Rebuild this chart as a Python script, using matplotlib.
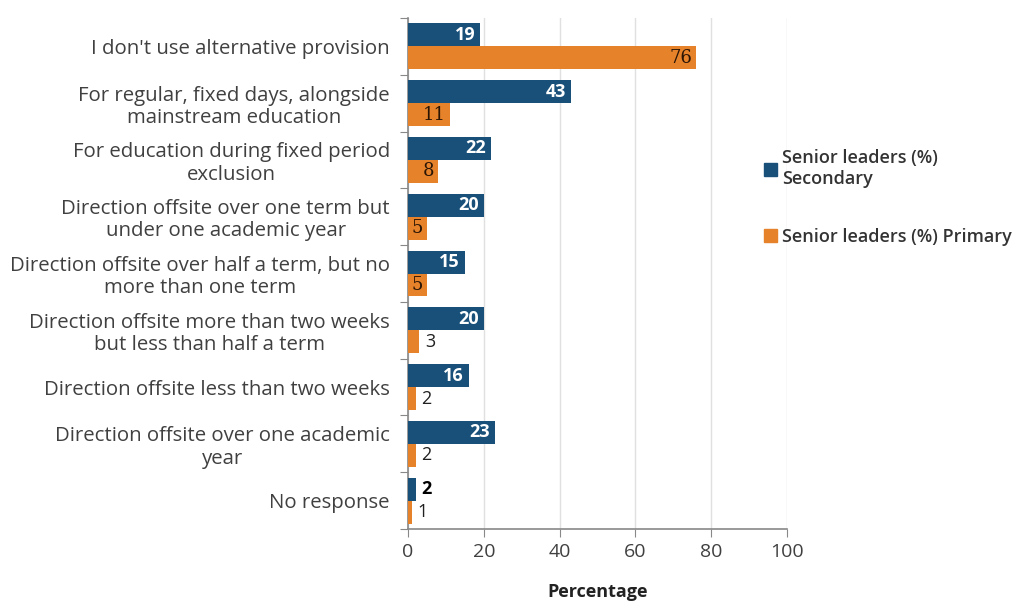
import matplotlib
matplotlib.use("Agg")
import matplotlib.pyplot as plt
import numpy as np
from matplotlib.patches import Patch

categories = [
    "I don't use alternative provision",
    "For regular, fixed days, alongside\nmainstream education",
    "For education during fixed period\nexclusion",
    "Direction offsite over one term but\nunder one academic year",
    "Direction offsite over half a term, but no\nmore than one term",
    "Direction offsite more than two weeks\nbut less than half a term",
    "Direction offsite less than two weeks",
    "Direction offsite over one academic\nyear",
    "No response",
]
secondary = [19, 43, 22, 20, 15, 20, 16, 23, 2]
primary = [76, 11, 8, 5, 5, 3, 2, 2, 1]
series_names = ["Senior leaders (%)\nSecondary", "Senior leaders (%) Primary"]
xticks = [0, 20, 40, 60, 80, 100]

c_sec = "#18507A"
c_pri = "#E5822A"
txt = "#404040"
fam = ["Open Sans", "DejaVu Sans"]

fig = plt.figure(figsize=(10.16, 6.01), dpi=100)
ax = fig.add_axes([408/1016, 1-529/601, (787-408)/1016, (529-18)/601])

n = len(categories)
y = np.arange(n)
h = 0.405
ax.barh(y - h/2, secondary, height=h, color=c_sec, zorder=3)
ax.barh(y + h/2, primary, height=h, color=c_pri, zorder=3)

for i in range(n):
    s = secondary[i]
    if s >= 5:
        ax.text(s - 1.3, y[i] - h/2, str(s), ha="right", va="center", color="white",
                fontweight="bold", fontsize=13, family=fam, zorder=4)
    else:
        ax.text(s + 1.5, y[i] - h/2, str(s), ha="left", va="center", color="black",
                fontweight="bold", fontsize=13, family=fam, zorder=4)
    p = primary[i]
    if p >= 4:
        ax.text(p - 1.0, y[i] + h/2, str(p), ha="right", va="center", color="#2a1505",
                fontsize=13, family=["DejaVu Serif"], zorder=4)
    else:
        ax.text(p + 1.5, y[i] + h/2, str(p), ha="left", va="center", color="#202020",
                fontsize=13, family=fam, zorder=4)

ax.set_xlim(0, 100)
ax.set_ylim(n - 0.5, -0.5)
ax.set_xticks(xticks)
ax.set_xticklabels([str(t) for t in xticks], fontsize=14, family=fam, color=txt)
ax.set_yticks(np.arange(n + 1) - 0.5, minor=False)
ax.set_yticklabels([])
ax.set_yticks(y, minor=True)
ax.set_yticklabels(categories, minor=True, fontsize=14.7, family=fam, color=txt,
                   linespacing=1.15)
ax.tick_params(axis="y", which="minor", length=0, pad=20)
ax.tick_params(axis="y", which="major", length=6, color="#888888", direction="out")
ax.tick_params(axis="x", length=6, color="#888888", direction="out", pad=4)
ax.yaxis.set_tick_params(which="minor", pad=13)
for lbl in ax.get_yticklabels(minor=True):
    lbl.set_horizontalalignment("right")
    lbl.set_multialignment("center")

ax.grid(axis="x", color="#e0e0e0", linewidth=1, zorder=0)
for sp in ["top", "right"]:
    ax.spines[sp].set_visible(False)
for sp in ["left", "bottom"]:
    ax.spines[sp].set_color("#888888")
    ax.spines[sp].set_linewidth(1.2)

ax.set_xlabel("Percentage", fontsize=13, fontweight="bold", family=fam, color="#222222",
              labelpad=16)

handles = [Patch(color=c_sec), Patch(color=c_pri)]
leg = fig.legend(handles, series_names, loc="upper left", bbox_to_anchor=(748/1016, 1-133/601),
                 frameon=False, handlelength=0.7, handleheight=0.7, handletextpad=0.3,
                 labelspacing=2.2, prop={"family": fam, "size": 13, "weight": "semibold"})
for t in leg.get_texts():
    t.set_color("#333333")

fig.savefig("out.png", dpi=100)
